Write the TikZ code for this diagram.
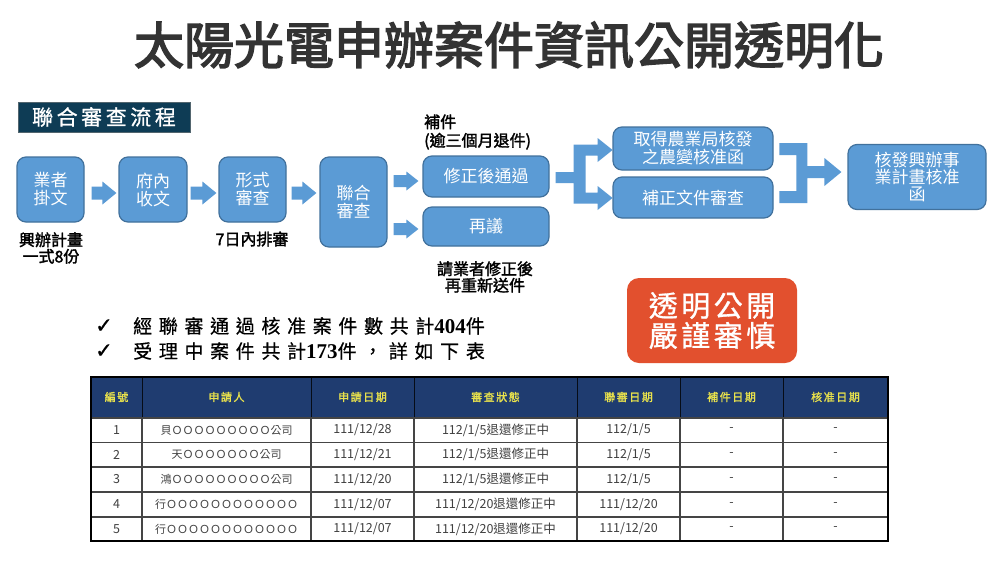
\documentclass[tikz,border=0pt]{standalone}
\usepackage{fontspec}
\usetikzlibrary{calc}
\newfontfamily\cjk{Noto Sans CJK TC}
\newfontfamily\cjkB[FakeBold=2]{Noto Sans CJK TC}
\newfontfamily\cjkT[FakeBold=3]{Noto Sans CJK TC}
\newfontfamily\cjkH[FakeBold=1.5,LetterSpace=14]{Noto Sans CJK TC}
\newfontfamily\cjkLab[FakeBold=1,LetterSpace=17]{Noto Sans CJK TC}
\newfontfamily\cjkRed[FakeBold=1,LetterSpace=12]{Noto Sans CJK TC}
\newfontfamily\cjkChk[FakeBold=0.6,LetterSpace=35]{Noto Sans CJK TC}
\newfontfamily\serif{Liberation Serif}
\newfontfamily\dejavu[FakeBold=1]{DejaVu Sans}
\definecolor{boxblue}{HTML}{5B9BD5}
\definecolor{boxedge}{HTML}{41719C}
\definecolor{labelnavy}{HTML}{0E3C55}
\definecolor{headnavy}{HTML}{1F3C70}
\definecolor{headyellow}{HTML}{E9E24C}
\definecolor{redbox}{HTML}{E2502E}
\definecolor{titlegray}{HTML}{333333}
\definecolor{celltext}{HTML}{404040}
\definecolor{gridgray}{HTML}{454545}
\newcommand\blockarrow[5]{\fill[arrowfill] let \p1=(#1), \p2=(#2) in
  (\x1,\y1+#3pt) -- (\x2-#5pt,\y1+#3pt) -- (\x2-#5pt,\y1+#4pt) -- (\x2,\y1)
  -- (\x2-#5pt,\y1-#4pt) -- (\x2-#5pt,\y1-#3pt) -- (\x1,\y1-#3pt) -- cycle;}
\begin{document}
\begin{tikzpicture}[x=1pt,y=-1pt,
  flowbox/.style={draw=boxedge, line width=1.2pt, fill=boxblue, rounded corners=9pt,
    text=white, align=center, inner sep=0pt, font=\cjk\fontsize{17}{18}\selectfont},
  arrowfill/.style={fill=boxblue},
  blabel/.style={font=\cjkB\fontsize{16}{16.5}\selectfont, text=black, align=center, inner sep=0pt},
  hcell/.style={font=\cjkH\fontsize{11}{11}\selectfont, text=headyellow, inner sep=0pt},
  cell/.style={font=\cjk\fontsize{12.5}{12.5}\selectfont, text=celltext, inner sep=0pt},
  namecell/.style={cell, font=\cjk\fontsize{11}{11}\selectfont},
  grid/.style={draw=gridgray, line width=1.4pt}]
\useasboundingbox[fill=white] (0,0) rectangle (1000,563);

% title
\node[font=\cjkT\fontsize{50}{50}\selectfont, text=titlegray, inner sep=0pt] (title) at (509,45) {太陽光電申辦案件資訊公開透明化};

% section label
\node[fill=labelnavy, draw=gray!60!labelnavy, line width=0.8pt, minimum width=172pt, minimum height=30pt, inner sep=0pt,
  text=white, font=\cjkLab\fontsize{21}{21}\selectfont] (sect) at (104,117) {聯合審查流程};

% flow boxes
\node[flowbox, minimum width=67pt, minimum height=65pt] (b1) at (50.5,189.5) {業者\\掛文};
\node[flowbox, minimum width=68pt, minimum height=65pt] (b2) at (153,189.5) {府內\\收文};
\node[flowbox, minimum width=67pt, minimum height=65pt] (b3) at (252.5,189.5) {形式\\審查};
\node[flowbox, minimum width=67pt, minimum height=90pt] (b4) at (353.5,202) {聯合\\審查};
\node[flowbox, minimum width=126pt, minimum height=41pt] (b5) at (486,176.5) {修正後通過};
\node[flowbox, minimum width=126pt, minimum height=39pt] (b6) at (486,226.5) {再議};
\node[flowbox, minimum width=160pt, minimum height=43pt] (b7) at (693,148.5) {取得農業局核發\\之農變核准函};
\node[flowbox, minimum width=160pt, minimum height=41pt] (b8) at (693,197.5) {補正文件審查};
\node[flowbox, minimum width=138pt, minimum height=65pt, font=\cjk\fontsize{17}{17}\selectfont] (b9) at (917,177) {核發興辦事\\業計畫核准\\函};

% block arrows
\blockarrow{$(b1.east)+(7,3.5)$}{$(b2.west)+(-2,3.5)$}{6.5}{11.5}{14}
\blockarrow{$(b2.east)+(3,3.5)$}{$(b3.west)+(-2,3.5)$}{6.5}{11.5}{14}
\blockarrow{$(b3.east)+(5,3.5)$}{$(b4.west |- b3.east)+(-3,3.5)$}{6.5}{11.5}{14}
\blockarrow{$(b4.east |- b5.west)+(6,4.5)$}{$(b5.west)+(-4,4.5)$}{6}{9.5}{12}
\blockarrow{$(b4.east |- b6.west)+(6,2.5)$}{$(b6.west)+(-4,2.5)$}{6}{9.5}{12}

% split arrow from b5 to b7 / b8
\fill[arrowfill, shift={(b5.east)}]
  (6,-4.5) -- (24,-4.5) -- (24,-32) -- (48,-32) -- (48,-38.5) -- (63,-26.5) -- (48,-14.5)
  -- (48,-21) -- (36,-21) -- (36,16) -- (48,16) -- (48,9.5) -- (63,21.5) -- (48,33.5)
  -- (48,27) -- (24,27) -- (24,6.5) -- (6,6.5) -- cycle;

% merge arrow from b7 / b8 to b9
\fill[arrowfill, shift={(b9.west)}]
  (-68,-34) -- (-40,-34) -- (-40,-11) -- (-23,-11) -- (-23,-19) -- (-6,-5)
  -- (-23,9) -- (-23,1) -- (-40,1) -- (-40,26) -- (-68,26) -- (-68,14)
  -- (-51,14) -- (-51,-22) -- (-68,-22) -- cycle;

% labels around flow
\node[blabel] (l1) at (51,248) {興辦計畫\\一式8份};
\node[blabel] (l2) at (252,239) {7日內排審};
\node[blabel, align=left, anchor=west, font=\cjkB\fontsize{16}{18.5}\selectfont] (l3) at (424,132) {補件\\(逾三個月退件)};
\node[blabel] (l4) at (485,277) {請業者修正後\\再重新送件};

% checklist
\node[font=\dejavu\fontsize{21}{21}\selectfont, inner sep=0pt] (c1) at (104,326) {✓};
\node[font=\dejavu\fontsize{21}{21}\selectfont, inner sep=0pt] (c2) at (104,351) {✓};
\node[anchor=west, inner sep=0pt, font=\cjkChk\fontsize{19}{19}\selectfont] (t1) at (133,326)
  {經聯審通過核准案件數共計{\serif\bfseries\fontsize{21}{21}\selectfont 404}件};
\node[anchor=west, inner sep=0pt, font=\cjkChk\fontsize{19}{19}\selectfont] (t2) at (133,351)
  {受理中案件共計{\serif\bfseries\fontsize{21}{21}\selectfont 173}件，詳如下表};

% red box
\node[fill=redbox, rounded corners=12pt, minimum width=170pt, minimum height=85pt, inner sep=0pt,
  text=white, align=center, font=\cjkRed\fontsize{29}{30}\selectfont] (red) at (712,320.5) {透明公開\\嚴謹審慎};

% table
\fill[headnavy] (91,377) rectangle (888,418);
\foreach \x in {142,311,414,577,680,783}
  \draw[draw=black!80!headnavy, line width=1pt] (\x,377) -- (\x,418);
\foreach \y in {418,442.5,467,492,517}
  \draw[grid] (91,\y) -- (888,\y);
\foreach \x in {142,311,414,577,680,783}
  \draw[grid] (\x,418) -- (\x,541);
\draw[draw=black, line width=1.5pt] (91,377) rectangle (888,541);

\node[hcell] (h1) at (116.5,397) {編號};
\node[hcell] (h2) at (226.5,397) {申請人};
\node[hcell] (h3) at (362.5,397) {申請日期};
\node[hcell] (h4) at (495.5,397) {審查狀態};
\node[hcell] (h5) at (628.5,397) {聯審日期};
\node[hcell] (h6) at (731.5,397) {補件日期};
\node[hcell] (h7) at (835.5,397) {核准日期};

\foreach \r/\y/\a/\b/\c/\d in {
  1/430/{貝ＯＯＯＯＯＯＯＯＯ公司}/{111/12/28}/{112/1/5退還修正中}/{112/1/5},
  2/454.5/{天ＯＯＯＯＯＯＯ公司}/{111/12/21}/{112/1/5退還修正中}/{112/1/5},
  3/479.5/{鴻ＯＯＯＯＯＯＯＯＯ公司}/{111/12/20}/{112/1/5退還修正中}/{112/1/5},
  4/504.5/{行ＯＯＯＯＯＯＯＯＯＯＯＯ}/{111/12/07}/{111/12/20退還修正中}/{111/12/20},
  5/529/{行ＯＯＯＯＯＯＯＯＯＯＯＯ}/{111/12/07}/{111/12/20退還修正中}/{111/12/20}} {
  \node[cell] (r\r c1) at (116.5,\y) {\r};
  \node[namecell] (r\r c2) at (226.5,\y) {\a};
  \node[cell] (r\r c3) at (362.5,\y) {\b};
  \node[cell] (r\r c4) at (495.5,\y) {\c};
  \node[cell] (r\r c5) at (628.5,\y) {\d};
  \node[cell] (r\r c6) at (731.5,\y) {-};
  \node[cell] (r\r c7) at (835.5,\y) {-};
}
\end{tikzpicture}
\end{document}
